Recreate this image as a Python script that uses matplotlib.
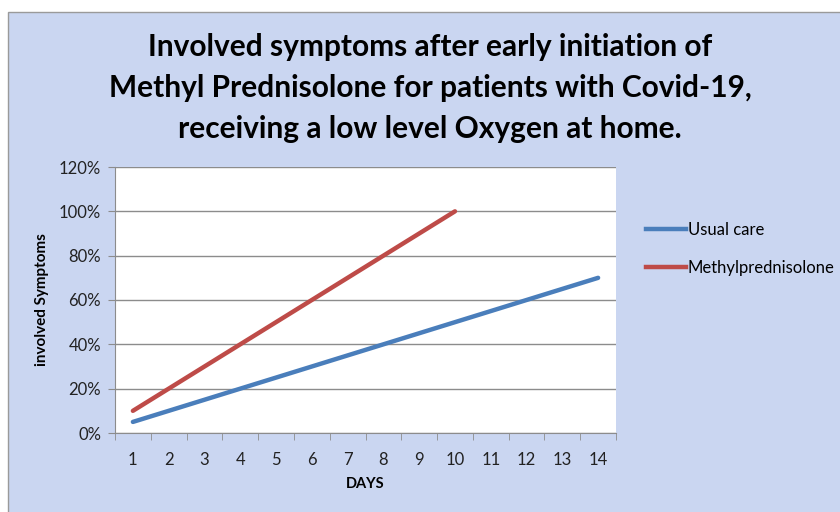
import matplotlib
matplotlib.use("Agg")
import matplotlib.pyplot as plt
from matplotlib.patches import Rectangle
from matplotlib.lines import Line2D
import numpy as np

days = list(range(1, 15))
usual_care = [0.05, 0.10, 0.15, 0.20, 0.25, 0.30, 0.35, 0.40, 0.45, 0.50, 0.55, 0.60, 0.65, 0.70]
methyl_days = list(range(1, 11))
methylpred = [0.10, 0.20, 0.30, 0.40, 0.50, 0.60, 0.70, 0.80, 0.90, 1.00]
yticks = [0, 0.2, 0.4, 0.6, 0.8, 1.0, 1.2]
ytick_labels = ["0%", "20%", "40%", "60%", "80%", "100%", "120%"]
title = ("Involved symptoms after early initiation of\n"
         "Methyl Prednisolone for patients with Covid-19,\n"
         "receiving a low level Oxygen at home.")

plt.rcParams['font.family'] = ['Lato', 'DejaVu Sans']

W, H = 840, 512
fig = plt.figure(figsize=(W/100, H/100), dpi=100)
fig.patch.set_facecolor('white')

# chart area background
bg = Rectangle((8/W, -0.01), 1 - 8/W + 0.01, 1 - 12/H + 0.01, transform=fig.transFigure,
               facecolor='#CAD6F1', edgecolor='#9A9A9A', linewidth=1.0, zorder=-10)
fig.patches.append(bg)

ax = fig.add_axes([115/W, 1 - 433/H, (616-115)/W, (433-167)/H])
ax.set_facecolor('white')

ax.plot(days, usual_care, color='#4A7EBB', linewidth=3.2, solid_capstyle='round', zorder=3)
ax.plot(methyl_days, methylpred, color='#BE4B48', linewidth=3.2, solid_capstyle='round', zorder=3)

ax.set_xlim(0.5, 14.5)
ax.set_ylim(0, 1.2)
ax.set_yticks(yticks)
ax.set_yticklabels(ytick_labels)
ax.set_xticks(days)
ax.set_xticklabels([str(d) for d in days])
ax.set_xticks(np.arange(0.5, 15, 1), minor=True)
ax.tick_params(axis='x', which='major', length=0, pad=14, labelsize=12, colors='#222222')
ax.tick_params(axis='x', which='minor', length=5, direction='out', color='#8C8C8C')
ax.tick_params(axis='y', length=5, direction='out', color='#8C8C8C', labelsize=12,
               labelcolor='#222222', pad=5)
ax.yaxis.grid(True, color='#8C8C8C', linewidth=1.0)
ax.set_axisbelow(True)
for s in ['top', 'right']:
    ax.spines[s].set_visible(False)
ax.spines['left'].set_color('#8C8C8C')
ax.spines['bottom'].set_color('#8C8C8C')

ax.set_xlabel("DAYS", fontsize=10.5, fontweight='bold')
ax.set_ylabel("involved Symptoms", fontsize=11, fontweight='bold')
ax.yaxis.set_label_coords(-(115-42)/(616-115), 0.5)
ax.xaxis.set_label_coords((365-115)/(616-115), -(484-433)/(433-167))
ax.xaxis.label.set_va('center')
ax.yaxis.label.set_va('center')

fig.text(430/W, 1 - 88/H, title, ha='center', va='center', fontsize=21.5,
         fontweight='bold', linespacing=1.55, color='black')

handles = [Line2D([], [], color='#4A7EBB', linewidth=3.2),
           Line2D([], [], color='#BE4B48', linewidth=3.2)]
leg = fig.legend(handles, ["Usual care", "Methylprednisolone"], loc='upper left',
                 bbox_to_anchor=(631/W, 1 - 207/H), frameon=False, fontsize=12,
                 handlelength=2.4, handletextpad=0.1, labelspacing=1.3)

fig.savefig("out.png", dpi=100)
